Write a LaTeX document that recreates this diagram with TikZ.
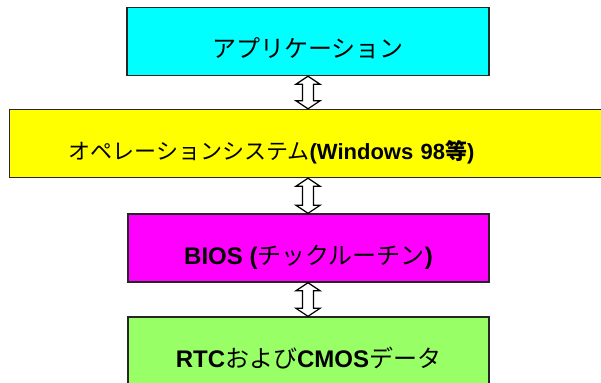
\documentclass[tikz,border=0pt]{standalone}
\usepackage{fontspec}
\setmainfont{Liberation Sans}
\newfontfamily\jp{Noto Sans CJK JP}
\usepackage{tikz}
\usetikzlibrary{arrows.meta,calc,positioning}

\definecolor{appcyan}{RGB}{0,255,255}
\definecolor{osyellow}{RGB}{255,255,0}
\definecolor{biosmagenta}{RGB}{255,0,255}
\definecolor{cmosgreen}{RGB}{153,255,102}

\tikzset{
  layer/.style={rectangle, draw=black!85, line width=1.4bp, inner xsep=0pt, inner ysep=0pt,
    text height=50bp, text depth=18bp},
  bigtext/.style={font=\fontsize{24bp}{28bp}\selectfont},
  blockarrow/.style={draw=black, line width=1.2bp, fill=white, line join=miter}
}

\newcommand{\updown}[2]{%
  \draw[blockarrow] (#1.south -| axis) -- ++(12,8) -- ++(-6.5,0)
    -- ($(#2.north -| axis)+(5.5,-8)$) -- ++(6.5,0) -- (#2.north -| axis)
    -- ++(-12,-8) -- ++(6.5,0) -- ($(#1.south -| axis)+(-5.5,8)$) -- ++(-6.5,0) -- cycle;}

\begin{document}
\begin{tikzpicture}[x=1bp, y=-1bp]
  \useasboundingbox (0,0) rectangle (601,382);
  \clip (0,0) rectangle (601,382);
  \coordinate (axis) at (308,0);
  \node[layer, bigtext, fill=appcyan, minimum width=362bp] (app) at (308,41.5) {\jp アプリケーション};
  \node[layer, fill=osyellow, anchor=west, inner xsep=59bp, text width=477bp, align=left,
    font=\fontsize{22bp}{26bp}\selectfont] (os) at (9,143.5)
    {{\jp オペレーションシステム}\textbf{(Windows 98}{\jp\bfseries 等}\textbf{)}};
  \node[layer, bigtext, fill=biosmagenta, minimum width=361bp] (bios) at (308.5,248)
    {\textbf{BIOS (}{\jp チックルーチン}\textbf{)}};
  \node[layer, bigtext, fill=cmosgreen, minimum width=361bp] (cmos) at (308.5,351)
    {\textbf{RTC}{\jp および}\textbf{CMOS}{\jp データ}};
  \updown{app}{os}
  \updown{os}{bios}
  \updown{bios}{cmos}
\end{tikzpicture}
\end{document}
